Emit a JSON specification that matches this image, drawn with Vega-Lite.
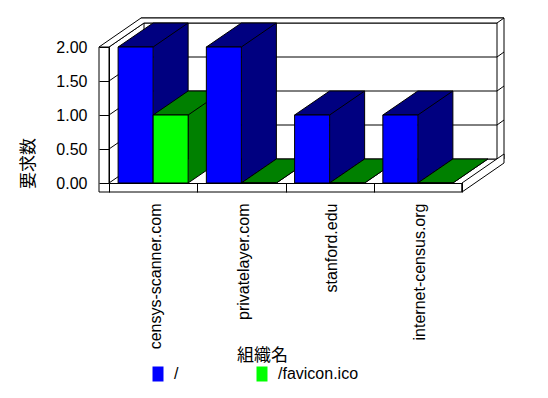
{
  "$schema": "https://vega.github.io/schema/vega-lite/v6.json",
  "width": 353,
  "height": 136,
  "autosize": {"type": "none"},
  "padding": {"left": 109, "top": 47, "right": 86, "bottom": 215},
  "background": "white",
  "config": {"view": {"stroke": null}, "font": "Liberation Sans", "axisY": {"labelOverlap": false, "labelFlush": false}},
  "datasets": {
    "requests": [
      {"org": "censys-scanner.com", "path": "/", "count": 2},
      {"org": "censys-scanner.com", "path": "/favicon.ico", "count": 1},
      {"org": "privatelayer.com", "path": "/", "count": 2},
      {"org": "privatelayer.com", "path": "/favicon.ico", "count": 0},
      {"org": "stanford.edu", "path": "/", "count": 1},
      {"org": "stanford.edu", "path": "/favicon.ico", "count": 0},
      {"org": "internet-census.org", "path": "/", "count": 1},
      {"org": "internet-census.org", "path": "/favicon.ico", "count": 0}
    ],
    "grid": [{"level": 0.5}, {"level": 1}, {"level": 1.5}],
    "anchor": [{"part": "frame"}]
  },
  "layer": [
    {
      "data": {"name": "anchor"},
      "mark": {"type": "point", "shape": "M32,-165L395,-165L395,-24L32,-24Z", "size": 4, "filled": true, "fill": "white", "stroke": "black", "strokeWidth": 1, "opacity": 1},
      "encoding": {
        "x": {"datum": "censys-scanner.com", "type": "nominal", "bandPosition": 0},
        "y": {"datum": 0, "type": "quantitative"}
      }
    },
    {
      "data": {"name": "anchor"},
      "mark": {"type": "point", "shape": "M25,-160L388,-160L388,-24L25,-24Z", "size": 4, "filled": true, "fill": "white", "stroke": "black", "strokeWidth": 1, "opacity": 1},
      "encoding": {
        "x": {"datum": "censys-scanner.com", "type": "nominal", "bandPosition": 0},
        "y": {"datum": 0, "type": "quantitative"}
      }
    },
    {
      "data": {"name": "anchor"},
      "mark": {"type": "point", "shape": "M0,0L35,-24L35,-160L0,-136Z", "size": 4, "filled": true, "fill": "white", "stroke": "black", "strokeWidth": 1, "opacity": 1},
      "encoding": {
        "x": {"datum": "censys-scanner.com", "type": "nominal", "bandPosition": 0},
        "y": {"datum": 0, "type": "quantitative"}
      }
    },
    {
      "data": {"name": "grid"},
      "mark": {"type": "point", "shape": "M0,0L35,-24L388,-24L395,-29", "size": 4, "filled": false, "stroke": "black", "strokeWidth": 1, "opacity": 1},
      "encoding": {
        "x": {"datum": "censys-scanner.com", "type": "nominal", "bandPosition": 0},
        "y": {"field": "level", "type": "quantitative"}
      }
    },
    {
      "data": {"name": "anchor"},
      "mark": {"type": "point", "shape": "M-10,-136L0,-136L35,-160L388,-160L395,-165L32,-165Z", "size": 4, "filled": true, "fill": "white", "stroke": "black", "strokeWidth": 1, "opacity": 1},
      "encoding": {
        "x": {"datum": "censys-scanner.com", "type": "nominal", "bandPosition": 0},
        "y": {"datum": 0, "type": "quantitative"}
      }
    },
    {
      "data": {"name": "anchor"},
      "mark": {"type": "point", "shape": "M353,0L395,-29L395,-20L353,9Z", "size": 4, "filled": true, "fill": "white", "stroke": "black", "strokeWidth": 1, "opacity": 1},
      "encoding": {
        "x": {"datum": "censys-scanner.com", "type": "nominal", "bandPosition": 0},
        "y": {"datum": 0, "type": "quantitative"}
      }
    },
    {
      "data": {"name": "anchor"},
      "mark": {"type": "point", "shape": "M-10,-136L-10,9L353,9L353,0", "size": 4, "filled": false, "stroke": "black", "strokeWidth": 1, "opacity": 1},
      "encoding": {
        "x": {"datum": "censys-scanner.com", "type": "nominal", "bandPosition": 0},
        "y": {"datum": 0, "type": "quantitative"}
      }
    },
    {
      "data": {"name": "requests"},
      "transform": [{"filter": "datum.path === '/'"}],
      "mark": {"type": "bar", "width": 35, "xOffset": 17.5, "yOffset": -24, "y2Offset": -24, "strokeWidth": 0, "fill": "#000080"},
      "encoding": {
        "x": {"field": "org", "type": "nominal", "sort": null},
        "y": {"field": "count", "type": "quantitative"}
      }
    },
    {
      "data": {"name": "requests"},
      "transform": [{"filter": "datum.path !== '/'"}],
      "mark": {"type": "bar", "width": 35, "xOffset": 52.5, "yOffset": -24, "y2Offset": -24, "strokeWidth": 0, "fill": "#008000"},
      "encoding": {
        "x": {"field": "org", "type": "nominal", "sort": null},
        "y": {"field": "count", "type": "quantitative"}
      }
    },
    {
      "data": {"name": "requests"},
      "transform": [{"filter": "datum.path === '/'"}],
      "mark": {"type": "rule", "xOffset": 35, "x2Offset": 35, "yOffset": -24, "y2Offset": -24, "stroke": "black", "strokeWidth": 1},
      "encoding": {
        "x": {"field": "org", "type": "nominal", "sort": null},
        "y": {"field": "count", "type": "quantitative"},
        "y2": {"datum": 0}
      }
    },
    {
      "data": {"name": "requests"},
      "transform": [{"filter": "datum.path !== '/'"}],
      "mark": {"type": "rule", "xOffset": 70, "x2Offset": 70, "yOffset": -24, "y2Offset": -24, "stroke": "black", "strokeWidth": 1},
      "encoding": {
        "x": {"field": "org", "type": "nominal", "sort": null},
        "y": {"field": "count", "type": "quantitative"},
        "y2": {"datum": 0}
      }
    },
    {
      "data": {"name": "requests"},
      "mark": {"type": "point", "shape": "M17.5,0L17.5,-24L52.5,-24Z", "size": 4, "filled": true, "strokeWidth": 0, "opacity": 1},
      "encoding": {
        "x": {"field": "org", "type": "nominal", "sort": null},
        "xOffset": {"field": "path", "type": "nominal", "sort": null},
        "y": {"datum": 0, "type": "quantitative"},
        "fill": {"condition": {"test": "datum.path === '/'", "value": "#000080"}, "value": "#008000"}
      }
    },
    {
      "data": {"name": "requests"},
      "mark": {"type": "point", "shape": "M17.5,0L52.5,-24", "size": 4, "filled": false, "stroke": "black", "strokeWidth": 1, "opacity": 1},
      "encoding": {
        "x": {"field": "org", "type": "nominal", "sort": null},
        "xOffset": {"field": "path", "type": "nominal", "sort": null},
        "y": {"datum": 0, "type": "quantitative"}
      }
    },
    {
      "data": {"name": "requests"},
      "mark": {"type": "point", "shape": "M-17.5,0L17.5,0L52.5,-24L17.5,-24Z", "size": 4, "filled": true, "stroke": "black", "strokeWidth": 1, "opacity": 1},
      "encoding": {
        "x": {"field": "org", "type": "nominal", "sort": null},
        "xOffset": {"field": "path", "type": "nominal", "sort": null},
        "y": {"field": "count", "type": "quantitative"},
        "fill": {"condition": {"test": "datum.path === '/'", "value": "#000080"}, "value": "#008000"}
      }
    },
    {
      "data": {"name": "requests"},
      "mark": {"type": "bar", "stroke": "black", "strokeWidth": 1},
      "encoding": {
        "x": {
          "field": "org", "type": "nominal", "sort": null,
          "scale": {"paddingInner": 0, "paddingOuter": 0},
          "axis": {
            "title": "組織名", "titleFont": "Noto Sans CJK JP", "titleFontSize": 17, "titleFontWeight": "normal", "titleColor": "black",
            "titleX": 153, "titleY": 172, "titleAlign": "center", "titleBaseline": "middle", "titleAngle": 0,
            "labelAngle": 270, "labelAlign": "right", "labelBaseline": "middle", "labelFont": "Liberation Sans", "labelFontSize": 16,
            "labelColor": "black", "labelPadding": 11, "labelLimit": 0, "labelOverlap": false, "labelOffset": 2,
            "tickBand": "extent", "tickSize": 9, "tickColor": "black", "domainColor": "black", "grid": false, "zindex": 1
          }
        },
        "xOffset": {"field": "path", "type": "nominal", "sort": null, "scale": {"paddingInner": 0, "paddingOuter": 0.26}},
        "y": {
          "field": "count", "type": "quantitative",
          "scale": {"domain": [0, 2], "nice": false},
          "axis": {
            "title": "要求数", "titleFont": "Noto Sans CJK JP", "titleFontSize": 17, "titleFontWeight": "normal", "titleColor": "black",
            "titleX": -81, "titleY": 116, "titleAngle": 270, "titleAlign": "center", "titleBaseline": "middle",
            "values": [0, 0.5, 1, 1.5, 2], "tickCount": 5, "format": ".2f", "labelFont": "Liberation Sans", "labelFontSize": 16, "labelColor": "black",
            "labelPadding": 12, "labelOverlap": false, "labelFlush": false, "tickSize": 10, "tickColor": "black", "domainColor": "black", "grid": false, "zindex": 1
          }
        },
        "color": {
          "field": "path", "type": "nominal",
          "scale": {"domain": ["/", "/favicon.ico"], "range": ["#0000ff", "#00ff00"]},
          "legend": {
            "title": null, "orient": "none", "legendX": 41, "legendY": 319, "direction": "horizontal",
            "symbolType": "M-0.733,-1L0.733,-1L0.733,1L-0.733,1Z", "symbolSize": 225, "symbolStrokeWidth": 0, "symbolOpacity": 1,
            "labelFont": "Liberation Sans", "labelFontSize": 16, "labelColor": "black", "labelOffset": 8, "columnPadding": 75, "padding": 0
          }
        }
      }
    }
  ]
}
